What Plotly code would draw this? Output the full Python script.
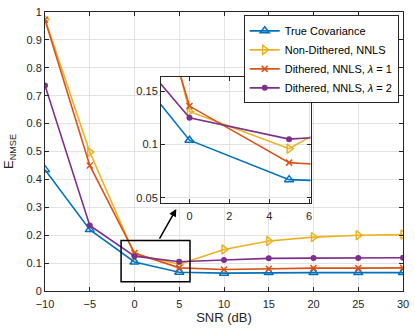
import plotly.graph_objects as go

snr = [-10, -5, 0, 5, 10, 15, 20, 25, 30]
true_cov = [0.435, 0.220, 0.104, 0.067, 0.064, 0.066, 0.066, 0.066, 0.066]
non_dithered = [0.974, 0.498, 0.131, 0.096, 0.149, 0.179, 0.193, 0.200, 0.202]
dithered_l1 = [0.972, 0.450, 0.136, 0.083, 0.077, 0.080, 0.082, 0.082, 0.083]
dithered_l2 = [0.737, 0.235, 0.125, 0.105, 0.111, 0.117, 0.118, 0.118, 0.119]

x_ticks = [-10, -5, 0, 5, 10, 15, 20, 25, 30]
y_ticks = [0, 0.1, 0.2, 0.3, 0.4, 0.5, 0.6, 0.7, 0.8, 0.9, 1]
y_tick_text = ["0", "0.1", "0.2", "0.3", "0.4", "0.5", "0.6", "0.7", "0.8", "0.9", "1"]
inset_x_ticks = [0, 2, 4, 6]
inset_y_ticks = [0.05, 0.1, 0.15]

series = [
    ("True Covariance", true_cov, "#0072BD", dict(symbol="triangle-up-open", size=8, line=dict(width=1.5))),
    ("Non-Dithered, NNLS", non_dithered, "#EDB120", dict(symbol="triangle-right-open", size=8, line=dict(width=1.5))),
    ("Dithered, NNLS, <i>λ</i> = 1", dithered_l1, "#D95319", dict(symbol="x-thin-open", size=6, line=dict(width=1.5))),
    ("Dithered, NNLS, <i>λ</i> = 2", dithered_l2, "#7E2F8E", dict(symbol="circle", size=6)),
]

FONT = "Liberation Sans, Arial, sans-serif"

fig = go.Figure()

# main curves
for name, ys, color, marker in series:
    fig.add_trace(go.Scatter(
        x=snr, y=ys, mode="lines+markers", name=name,
        line=dict(color=color, width=1.6),
        marker=dict(color=color, **marker),
        xaxis="x", yaxis="y",
    ))

# zoomed inset, same data
for name, ys, color, marker in series:
    fig.add_trace(go.Scatter(
        x=snr, y=ys, mode="lines+markers", name=name, showlegend=False,
        line=dict(color=color, width=1.6),
        marker=dict(color=color, **marker),
        xaxis="x2", yaxis="y2",
    ))

axis_common = dict(
    showline=True, linecolor="#262626", linewidth=1, mirror="ticks",
    ticks="inside", ticklen=4, tickcolor="#262626",
    showgrid=True, gridcolor="#E3E3E3", gridwidth=1,
    zeroline=False, tickfont=dict(size=11, color="#262626"),
)

fig.update_layout(
    width=415, height=331,
    margin=dict(l=45, r=9, t=6, b=40),
    paper_bgcolor="white", plot_bgcolor="white",
    font=dict(family=FONT, color="#262626"),
    xaxis=dict(
        axis_common, range=[-10, 30], tickvals=x_ticks,
        domain=[0, 1], ticklabelstandoff=3,
        title=dict(text="SNR (dB)", font=dict(size=13), standoff=2),
    ),
    yaxis=dict(
        axis_common, range=[0, 1], tickvals=y_ticks, ticktext=y_tick_text,
        domain=[0, 1],
        title=dict(text="E<sub>NMSE</sub>", font=dict(size=13), standoff=9),
    ),
    xaxis2=dict(
        axis_common, range=[-1.43, 6.08], tickvals=inset_x_ticks,
        domain=[0.324, 0.742], anchor="y2", ticklabelstandoff=3,
    ),
    yaxis2=dict(
        axis_common, range=[0.045, 0.163], tickvals=inset_y_ticks,
        domain=[0.315, 0.766], anchor="x2",
    ),
    legend=dict(
        x=0.988, y=0.988, xanchor="right", yanchor="top",
        bgcolor="white", bordercolor="#262626", borderwidth=1,
        font=dict(size=11, color="#000000"),
        tracegroupgap=0, itemwidth=30,
    ),
)

# box marking the zoomed region
fig.add_shape(
    type="rect", xref="x", yref="y",
    x0=-1.5, x1=6.2, y0=0.033, y1=0.181,
    line=dict(color="black", width=1.5),
)

# arrow pointing from the box to the inset
fig.add_annotation(
    xref="x", yref="y", axref="x", ayref="y",
    x=4.67, y=0.294, ax=2.7, ay=0.182,
    text="", showarrow=True, arrowhead=2, arrowsize=1,
    arrowwidth=1.5, arrowcolor="black",
)

# page body has a default 8px margin; drop it so the figure sits at 0,0
fig.write_html(
    "out.html",
    config={"displayModeBar": False},
    post_script="document.body.style.margin='0';",
)
